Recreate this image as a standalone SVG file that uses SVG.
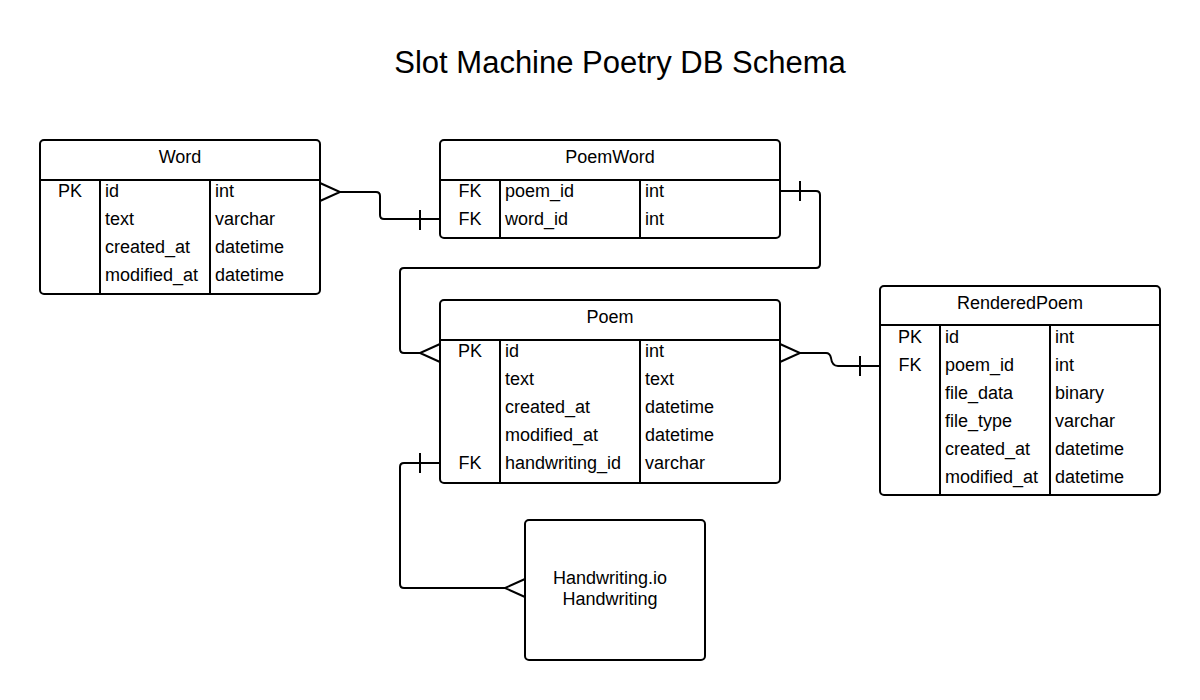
<svg xmlns="http://www.w3.org/2000/svg" width="1200" height="700" viewBox="0 0 1200 700">
<style>
text{font-family:"Liberation Sans",Arial,sans-serif;font-size:18px;fill:#000}
.title{font-size:31px}
.c{text-anchor:middle}
.box{fill:#fff;stroke:#000;stroke-width:2}
.ln{stroke:#000;stroke-width:2;fill:none}
</style>
<rect width="1200" height="700" fill="#fff"/>
<text class="title c" x="620" y="73">Slot Machine Poetry DB Schema</text>

<g id="connectors" class="ln">
<path d="M340,192 H376 Q380,192 380,196 V215 Q380,219 384,219 H440"/>
<path d="M320,183 L340,192 L320,201"/>
<path d="M420,210 V230"/>
<path d="M780,191 H816 Q820,191 820,195 V264 Q820,268 816,268 H404 Q400,268 400,272 V349 Q400,353 404,353 H420"/>
<path d="M800,181 V201"/>
<path d="M440,344 L420,353 L440,362"/>
<path d="M800,353 H826 Q830,353 831,358 Q832,366 838,366 H880"/>
<path d="M780,344 L800,353 L780,362"/>
<path d="M860,356 V376"/>
<path d="M440,463 H404 Q400,463 400,467 V584 Q400,588 404,588 H505"/>
<path d="M420,453 V473"/>
<path d="M525,579 L505,588 L525,597"/>
</g>

<g id="Word">
<rect class="box" x="40" y="140" width="280" height="154" rx="4"/>
<path class="ln" d="M40,180 H320 M100,180 V294 M210,180 V294"/>
<text class="c" x="180" y="163">Word</text>
<text class="c" x="70" y="197">PK</text>
<text x="105" y="197">id</text><text x="215" y="197">int</text>
<text x="105" y="225">text</text><text x="215" y="225">varchar</text>
<text x="105" y="253">created_at</text><text x="215" y="253">datetime</text>
<text x="105" y="281">modified_at</text><text x="215" y="281">datetime</text>
</g>

<g id="PoemWord">
<rect class="box" x="440" y="140" width="340" height="98" rx="4"/>
<path class="ln" d="M440,180 H780 M500,180 V238 M640,180 V238"/>
<text class="c" x="610" y="163">PoemWord</text>
<text class="c" x="470" y="197">FK</text><text x="505" y="197">poem_id</text><text x="645" y="197">int</text>
<text class="c" x="470" y="225">FK</text><text x="505" y="225">word_id</text><text x="645" y="225">int</text>
</g>

<g id="Poem">
<rect class="box" x="440" y="300" width="340" height="183" rx="4"/>
<path class="ln" d="M440,340 H780 M500,340 V483 M640,340 V483"/>
<text class="c" x="610" y="323">Poem</text>
<text class="c" x="470" y="357">PK</text><text x="505" y="357">id</text><text x="645" y="357">int</text>
<text x="505" y="385">text</text><text x="645" y="385">text</text>
<text x="505" y="413">created_at</text><text x="645" y="413">datetime</text>
<text x="505" y="441">modified_at</text><text x="645" y="441">datetime</text>
<text class="c" x="470" y="469">FK</text><text x="505" y="469">handwriting_id</text><text x="645" y="469">varchar</text>
</g>

<g id="RenderedPoem">
<rect class="box" x="880" y="286" width="280" height="209" rx="4"/>
<path class="ln" d="M880,325 H1160 M940,325 V495 M1050,325 V495"/>
<text class="c" x="1020" y="309">RenderedPoem</text>
<text class="c" x="910" y="343">PK</text><text x="945" y="343">id</text><text x="1055" y="343">int</text>
<text class="c" x="910" y="371">FK</text><text x="945" y="371">poem_id</text><text x="1055" y="371">int</text>
<text x="945" y="399">file_data</text><text x="1055" y="399">binary</text>
<text x="945" y="427">file_type</text><text x="1055" y="427">varchar</text>
<text x="945" y="455">created_at</text><text x="1055" y="455">datetime</text>
<text x="945" y="483">modified_at</text><text x="1055" y="483">datetime</text>
</g>

<g id="Handwriting">
<rect class="box" x="525" y="520" width="180" height="140" rx="4"/>
<text class="c" x="610" y="584">Handwriting.io</text>
<text class="c" x="610" y="605">Handwriting</text>
</g>
</svg>
